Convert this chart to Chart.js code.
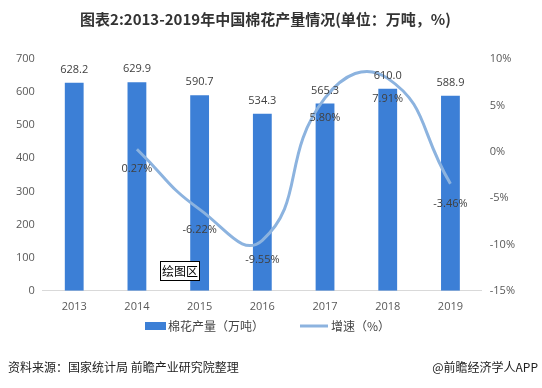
<!DOCTYPE html>
<html><head><meta charset="utf-8">
<script src="https://cdn.jsdelivr.net/npm/chart.js@4/dist/chart.umd.min.js"></script>
<style>html,body{margin:0;padding:0;background:#fff;}#wrap{width:542px;height:388px;position:relative;}</style>
</head><body><div id="wrap"><canvas id="c" width="542" height="388"></canvas></div>
<script>
const years = ['2013','2014','2015','2016','2017','2018','2019'];
const output = [628.2, 629.9, 590.7, 534.3, 565.3, 610.0, 588.9];
const outputLabels = ['628.2','629.9','590.7','534.3','565.3','610.0','588.9'];
const growth = [null, 0.27, -6.22, -9.55, 5.80, 7.91, -3.46];
const growthLabels = ['', '0.27%', '-6.22%', '-9.55%', '5.80%', '7.91%', '-3.46%'];
const leftTicks = [0,100,200,300,400,500,600,700];
const rightTicks = [-15,-10,-5,0,5,10];
const seriesNames = ['棉花产量（万吨）', '增速（%）'];

const BAR_COLOR = '#3C7FD6';
const LINE_COLOR = '#8CB3DF';
const FONT = "'Open Sans','Noto Sans CJK SC',sans-serif";
const CJK = "'Noto Sans CJK SC','Open Sans',sans-serif";

const labelPlugin = {
  id: 'labels',
  afterDatasetsDraw(chart) {
    const ctx = chart.ctx;
    ctx.save();
    ctx.font = "11px " + FONT;
    ctx.fillStyle = '#404040';
    ctx.textAlign = 'center';
    ctx.textBaseline = 'middle';
    const bm = chart.getDatasetMeta(0);
    bm.data.forEach((el, i) => { ctx.fillText(outputLabels[i], el.x, el.y - 13); });
    const lm = chart.getDatasetMeta(1);
    lm.data.forEach((el, i) => { if (growth[i] !== null) ctx.fillText(growthLabels[i], el.x, el.y + 20); });
    // plot area tag
    ctx.font = "12px " + CJK;
    ctx.textAlign = 'left';
    const tx = 162, ty = 271;
    const w = ctx.measureText('绘图区').width;
    ctx.fillStyle = '#fff';
    ctx.fillRect(tx - 2, ty - 9, w + 4, 18);
    ctx.strokeStyle = '#000';
    ctx.lineWidth = 1;
    ctx.strokeRect(tx - 1.5, ty - 9.5, w + 3, 19);
    ctx.fillStyle = '#000';
    ctx.fillText('绘图区', tx, ty);
    // legend
    ctx.font = "12px " + CJK;
    ctx.fillStyle = BAR_COLOR;
    ctx.fillRect(145, 322, 21, 8);
    ctx.fillStyle = '#444';
    ctx.fillText(seriesNames[0], 168, 326);
    ctx.strokeStyle = LINE_COLOR;
    ctx.lineWidth = 3;
    ctx.beginPath(); ctx.moveTo(300, 326); ctx.lineTo(328, 326); ctx.stroke();
    ctx.fillStyle = '#444';
    ctx.fillText(seriesNames[1], 331, 326);
    // footer
    ctx.font = "12px " + CJK;
    ctx.fillStyle = '#222';
    ctx.fillText('资料来源：国家统计局 前瞻产业研究院整理', 8, 367);
    ctx.textAlign = 'right';
    ctx.fillText('@前瞻经济学人APP', 538, 367);
    ctx.restore();
  }
};

new Chart(document.getElementById('c'), {
  data: {
    labels: years,
    datasets: [
      { type: 'bar', label: seriesNames[0], data: output, yAxisID: 'y', backgroundColor: BAR_COLOR, barPercentage: 0.6, categoryPercentage: 0.5, order: 2 },
      { type: 'line', label: seriesNames[1], data: growth, yAxisID: 'y1', borderColor: LINE_COLOR, backgroundColor: LINE_COLOR, borderWidth: 3, pointRadius: 0, tension: 0.5, spanGaps: false, order: 1 }
    ]
  },
  options: {
    responsive: false,
    animation: false,
    layout: { padding: { left: 8, right: 19, top: 0, bottom: 66 } },
    plugins: {
      title: { display: true, text: '图表2:2013-2019年中国棉花产量情况(单位：万吨，%)', font: { family: CJK, size: 15, weight: 'bold' }, color: '#333', padding: { top: 10, bottom: 31 } },
      legend: { display: false },
      tooltip: { enabled: false }
    },
    scales: {
      x: { grid: { display: false, drawTicks: false }, border: { color: '#D9D9D9' }, ticks: { font: { family: FONT, size: 11 }, color: '#595959', padding: 9 } },
      y: { position: 'left', min: 0, max: 700, afterBuildTicks(a) { a.ticks = leftTicks.map(v => ({ value: v })); }, grid: { display: false, drawTicks: false }, border: { display: false }, ticks: { font: { family: FONT, size: 11 }, color: '#595959', padding: 8 } },
      y1: { position: 'right', min: -15, max: 10, afterBuildTicks(a) { a.ticks = rightTicks.map(v => ({ value: v })); }, grid: { display: false, drawTicks: false }, border: { display: false }, ticks: { font: { family: FONT, size: 11 }, color: '#595959', padding: 8, callback: v => v + '%' } }
    }
  },
  plugins: [labelPlugin]
});
</script></body></html>
